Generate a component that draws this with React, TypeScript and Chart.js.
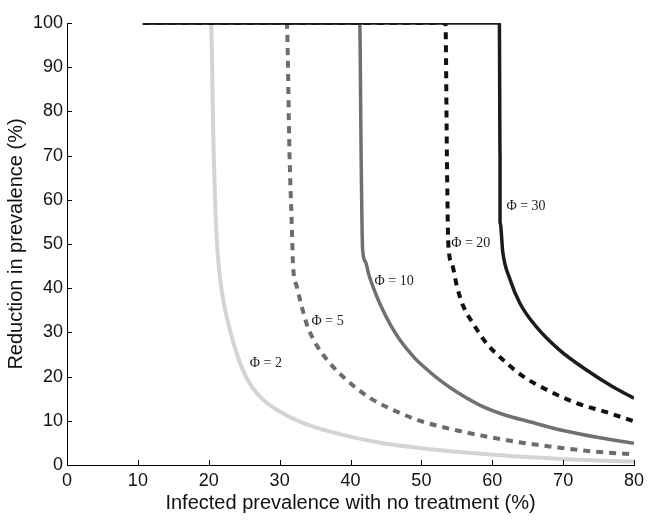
import React, { useEffect, useRef } from "react";
import { Chart, registerables } from "chart.js";

Chart.register(...registerables);

// Reduction in prevalence (%) vs infected prevalence with no treatment (%)
const phi2Points: [number, number][] = [
  [10.7, 100], [20.3, 100], [20.7, 70], [21.0, 55], [21.3, 47], [21.7, 41], [22.2, 36],
  [23.0, 30.5], [24.0, 25], [25.0, 20.8], [26.3, 17.2], [28, 14.3], [30, 12.1], [33, 9.7],
  [37, 7.6], [44, 5.1], [50, 3.8], [58, 2.6], [65, 1.8], [72, 1.2], [80, 0.8],
];
const phi5Points: [number, number][] = [
  [10.7, 100], [31.0, 100], [31.4, 70], [31.7, 55], [31.9, 45], [32.4, 40.5], [33.1, 36],
  [33.8, 32], [34.8, 28.3], [37, 23.2], [39.5, 19.2], [42.7, 15.2], [46.5, 12.1], [50, 9.9],
  [54, 8.2], [59, 6.5], [64, 5.1], [69, 4.0], [74, 3.1], [80, 2.4],
];
const phi10Points: [number, number][] = [
  [10.7, 100], [41.3, 100], [41.5, 70], [41.7, 49], [42.1, 46], [42.6, 43], [43.3, 39.8],
  [44.2, 36.3], [45.6, 31.8], [47, 28.2], [49, 24.3], [50.5, 22], [52.6, 19.2], [55, 16.5],
  [58.3, 13.5], [62, 11.2], [65, 9.9], [70, 7.8], [75, 6.2], [80, 4.9],
];
const phi20Points: [number, number][] = [
  [10.7, 100], [53.4, 100], [53.6, 70], [53.8, 50], [54.3, 45.6], [55, 40.5], [55.9, 36],
  [57.3, 32], [59.2, 27.5], [61.5, 23.8], [64.4, 20], [67.7, 17], [71.9, 14], [76, 12], [80, 9.9],
];
const phi30Points: [number, number][] = [
  [10.7, 100], [61.0, 100], [61.1, 70], [61.1, 55], [61.5, 48], [62.5, 42], [63.9, 36.6],
  [66.2, 31.3], [69.5, 26], [73.3, 21.5], [77, 17.7], [80, 15.1],
];

const curveNames = ["Φ=2", "Φ=5", "Φ=10", "Φ=20", "Φ=30"];
// label anchors (left edge, vertical centre) in data units
const labelX = [25.8, 34.5, 43.4, 54.2, 62.0];
const labelY = [23.1, 32.6, 41.5, 50.2, 58.6];

const xTicks = [0, 10, 20, 30, 40, 50, 60, 70, 80];
const yTicks = [0, 10, 20, 30, 40, 50, 60, 70, 80, 90, 100];

const toXY = (pts: [number, number][]) => pts.map(([x, y]) => ({ x, y }));

const innerTicks = {
  id: "innerTicks",
  afterDraw(chart: any) {
    const { ctx, scales } = chart;
    const xs = scales.x;
    const ys = scales.y;
    ctx.save();
    ctx.strokeStyle = "#000";
    ctx.lineWidth = 1;
    ctx.beginPath();
    xTicks.forEach((v) => {
      const px = Math.round(xs.getPixelForValue(v)) + 0.5;
      ctx.moveTo(px, ys.bottom);
      ctx.lineTo(px, ys.bottom - 5);
    });
    yTicks.forEach((v) => {
      const py = Math.round(ys.getPixelForValue(v)) + 0.5;
      ctx.moveTo(xs.left, py);
      ctx.lineTo(xs.left + 5, py);
    });
    ctx.stroke();
    ctx.restore();
  },
};

const curveLabels = {
  id: "curveLabels",
  afterDatasetsDraw(chart: any) {
    const { ctx, scales } = chart;
    ctx.save();
    ctx.fillStyle = "#222";
    ctx.font = '14px "Liberation Serif", serif';
    ctx.textAlign = "left";
    ctx.textBaseline = "middle";
    curveNames.forEach((name, i) => {
      const px = scales.x.getPixelForValue(labelX[i]);
      const py = scales.y.getPixelForValue(labelY[i]);
      ctx.fillText(name.replace("=", " = "), px, py);
    });
    ctx.restore();
  },
};

export default function App() {
  const ref = useRef<HTMLCanvasElement | null>(null);

  useEffect(() => {
    if (!ref.current) return;
    const tickFont = { family: '"Liberation Sans", Arial, sans-serif', size: 18 };
    const titleFont = { family: '"Liberation Sans", Arial, sans-serif', size: 20 };
    const common = { pointRadius: 0, cubicInterpolationMode: "monotone" as const, borderCapStyle: "butt" as const };
    const chart = new Chart(ref.current, {
      type: "line",
      data: {
        datasets: [
          { label: curveNames[4], data: toXY(phi30Points), borderColor: "#1c1c1c", borderWidth: 3.5, order: 0, ...common },
          { label: curveNames[3], data: toXY(phi20Points), borderColor: "#111111", borderWidth: 4, borderDash: [7, 6], order: 1, ...common },
          { label: curveNames[2], data: toXY(phi10Points), borderColor: "#707070", borderWidth: 3.5, order: 2, ...common },
          { label: curveNames[1], data: toXY(phi5Points), borderColor: "#6c6c6c", borderWidth: 4, borderDash: [7, 6], order: 3, ...common },
          { label: curveNames[0], data: toXY(phi2Points), borderColor: "#d4d4d4", borderWidth: 4, order: 4, ...common },
        ],
      },
      options: {
        animation: false,
        responsive: true,
        maintainAspectRatio: false,
        layout: { padding: { top: 23, right: 20, bottom: 0, left: 0 } },
        plugins: { legend: { display: false }, tooltip: { enabled: false } },
        scales: {
          x: {
            type: "linear",
            min: 0,
            max: 80,
            afterBuildTicks: (s: any) => {
              s.ticks = xTicks.map((v) => ({ value: v }));
            },
            afterFit: (s: any) => {
              s.height = 64;
            },
            grid: { display: false, drawTicks: false },
            border: { display: true, color: "#000", width: 1 },
            ticks: { color: "#111", font: tickFont, padding: 5, maxRotation: 0 },
            title: {
              display: true,
              text: "Infected prevalence with no treatment (%)",
              color: "#111",
              font: titleFont,
              padding: { top: 0, bottom: 14 },
            },
          },
          y: {
            type: "linear",
            min: 0,
            max: 100,
            afterBuildTicks: (s: any) => {
              s.ticks = yTicks.map((v) => ({ value: v }));
            },
            afterFit: (s: any) => {
              s.width = 67;
            },
            grid: { display: false, drawTicks: false },
            border: { display: true, color: "#000", width: 1 },
            ticks: { color: "#111", font: tickFont, padding: 4 },
            title: {
              display: true,
              text: "Reduction in prevalence (%)",
              color: "#111",
              font: titleFont,
              padding: { top: 4, bottom: 0 },
            },
          },
        },
      },
      plugins: [innerTicks, curveLabels],
    });
    return () => chart.destroy();
  }, []);

  return (
    <div style={{ position: "fixed", left: 0, top: 0, width: 654, height: 529, background: "#fff" }}>
      <canvas ref={ref} />
    </div>
  );
}
